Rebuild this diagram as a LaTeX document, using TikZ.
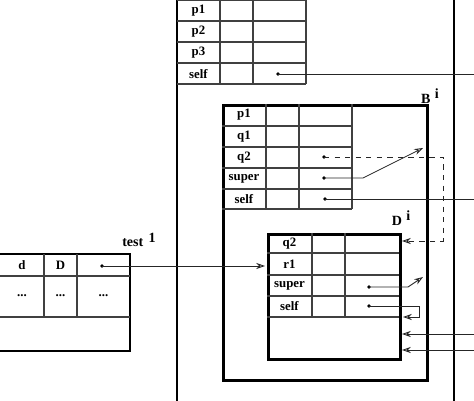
\documentclass[tikz,border=0pt]{standalone}
\usepackage{fontspec}
\setmainfont{Liberation Serif}
\usetikzlibrary{arrows.meta}
\begin{document}
\begin{tikzpicture}[x=0.02cm,y=-0.02cm,
  thickbox/.style={line width=1.5pt,black},
  grid/.style={line width=0.7pt,black!75},
  lbl/.style={font=\fontsize{7.3}{9}\selectfont\bfseries,inner sep=0pt},
  suplbl/.style={font=\fontsize{8}{9}\selectfont\bfseries,inner sep=0pt},
  conn/.style={line width=0.5pt,black!85},
  tip/.style={-{Stealth[open,length=5pt,width=3.5pt]}},
  dotmark/.style={circle,fill=black,inner sep=0pt,minimum size=2.2pt}]
\useasboundingbox (0,0) rectangle (474,401);
\clip (0,0) rectangle (474,401);
% outer box
\draw[thickbox] (177,-10) rectangle (454,420);
% top table
\foreach \x in {220,253,306} \draw[grid] (\x,-5) -- (\x,84);
\foreach \y in {0.5,21,42,63,84} \draw[grid] (177,\y) -- (306,\y);
\node[lbl] (tp1) at (198.5,11) {p1};
\node[lbl] (tp2) at (198.5,32) {p2};
\node[lbl] (tp3) at (198.5,53) {p3};
\node[lbl] (tself) at (198.5,74) {self};
\node[dotmark] (dtself) at (278,74) {};
\coordinate (etself) at (480,74);
% B box
\node[draw,thickbox,minimum width=204*0.02cm,minimum height=275*0.02cm,anchor=north west,inner sep=0pt] (Bbox) at (222,104) {};
\foreach \x in {266,299,352} \draw[grid] (\x,104) -- (\x,209);
\foreach \y in {126,147,168,189,209} \draw[grid] (222,\y) -- (352,\y);
\node[lbl] (bp1) at (244,115) {p1};
\node[lbl] (bq1) at (244,136.5) {q1};
\node[lbl] (bq2) at (244,157.5) {q2};
\node[lbl] (bsuper) at (244,178.5) {super};
\node[lbl] (bself) at (244,199) {self};
\node[dotmark] (dbq2) at (324,157) {};
\node[dotmark] (dbsuper) at (324,178) {};
\node[dotmark] (dbself) at (325,199) {};
\node[suplbl] (Blab) at (430,96) {B\hspace{2.5pt}\raisebox{0.7ex}{i}};
% D box
\node[draw,thickbox,minimum width=132*0.02cm,minimum height=125*0.02cm,anchor=north west,inner sep=0pt] (Dbox) at (267,233) {};
\foreach \x in {312,345} \draw[grid] (\x,233) -- (\x,317);
\foreach \y in {253,275,296,317} \draw[grid] (267,\y) -- (399,\y);
\node[lbl] (dq2) at (289.5,243.5) {q2};
\node[lbl] (dr1) at (289.5,264.5) {r1};
\node[lbl] (dsuper) at (289.5,286) {super};
\node[lbl] (dself) at (289.5,306.5) {self};
\node[dotmark] (ddsuper) at (369,287) {};
\node[dotmark] (ddself) at (369,306) {};
\node[suplbl] (Dlab) at (401,218) {D\hspace{2.5pt}\raisebox{0.7ex}{i}};
% test box
\draw[thickbox] (-3,254) rectangle (130,351);
\foreach \x in {44,77} \draw[grid] (\x,254) -- (\x,317);
\foreach \y in {276,317} \draw[grid] (-3,\y) -- (130,\y);
\node[lbl] (td) at (22,265) {d};
\node[lbl] (tD) at (60.5,265) {D};
\node[dotmark] (dtest) at (102,266) {};
\node[lbl] (e1) at (22,296) {...};
\node[lbl] (e2) at (60.5,296) {...};
\node[lbl] (e3) at (103.5,296) {...};
\node[suplbl] (testlab) at (139,240) {test\hspace{3pt}\raisebox{0.7ex}{1}};
% connector end points
\coordinate (tipBq2) at (402,241);
\coordinate (tipBsuper) at (423,148);
\coordinate (ebself) at (480,199);
\coordinate (tipDsuper) at (423,277);
\coordinate (tipDself) at (403,317);
\coordinate (in1) at (480,334);
\coordinate (tip1) at (402,334);
\coordinate (in2) at (480,350);
\coordinate (tip2) at (402,350);
\coordinate (tiptest) at (265,266);
% connectors
\draw[conn] (dtself.center) -- (etself);
\draw[conn,dashed,tip] (dbq2.center) -- (443,157) -- (443,241) -- (tipBq2);
\draw[conn,tip] (dbsuper.center) -- (363,178) -- (tipBsuper);
\draw[conn] (dbself.center) -- (ebself);
\draw[conn,tip] (ddsuper.center) -- (408,287) -- (tipDsuper);
\draw[conn,tip] (ddself.center) -- (419,306) -- (419,317) -- (tipDself);
\draw[conn,tip] (in1) -- (tip1);
\draw[conn,tip] (in2) -- (tip2);
\draw[conn,tip] (dtest.center) -- (tiptest);
\end{tikzpicture}
\end{document}
